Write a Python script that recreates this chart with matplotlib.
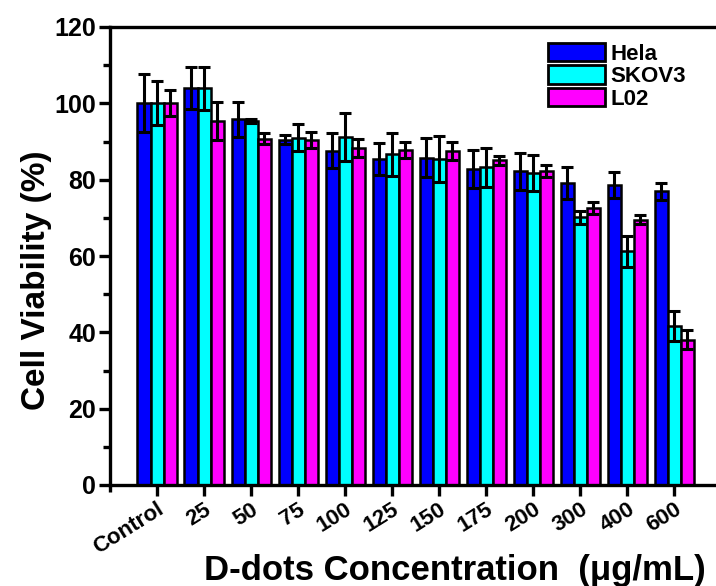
import numpy as np
import matplotlib
matplotlib.use("Agg")
import matplotlib.pyplot as plt
import matplotlib.transforms as mtransforms

plt.rcParams['font.family'] = ['Liberation Sans', 'DejaVu Sans']
plt.rcParams['font.weight'] = 'bold'

concentrations = ["Control", "25", "50", "75", "100", "125", "150", "175",
                  "200", "300", "400", "600"]
series_names = ["Hela", "SKOV3", "L02"]

hela_mean = [100.0, 103.9, 95.8, 90.5, 87.6, 85.3, 85.8, 82.9, 82.2, 79.2, 78.6, 77.0]
hela_err = [7.6, 5.5, 4.6, 1.2, 4.5, 4.2, 5.2, 5.0, 4.8, 4.2, 3.3, 2.2]
skov3_mean = [100.0, 103.9, 95.3, 91.0, 91.2, 86.6, 85.5, 83.2, 81.8, 70.1, 61.2, 41.6]
skov3_err = [5.8, 5.6, 0.5, 3.6, 6.2, 5.7, 6.0, 5.0, 4.7, 1.7, 4.0, 4.0]
l02_mean = [100.0, 95.3, 90.7, 90.4, 88.3, 87.8, 87.6, 85.1, 82.3, 72.6, 69.5, 38.1]
l02_err = [3.4, 5.0, 1.4, 2.2, 2.4, 2.0, 2.4, 1.2, 1.5, 1.5, 1.2, 2.5]

colors = ["#0000FF", "#00FFFF", "#FF00FF"]

fig = plt.figure(figsize=(7.16, 5.86), dpi=100)
ax = fig.add_axes([110 / 716, (586 - 485) / 586, 606 / 716, (485 - 27) / 586])

x = np.arange(len(concentrations))
width = 0.277
means = [hela_mean, skov3_mean, l02_mean]
errs = [hela_err, skov3_err, l02_err]

for i, (m, e, c, name) in enumerate(zip(means, errs, colors, series_names)):
    pos = x + (i - 1) * width
    ax.bar(pos, m, width=width, color=c, edgecolor='black', linewidth=1.8,
           label=name, zorder=2)
    ax.errorbar(pos, m, yerr=e, fmt='none', ecolor='black', elinewidth=2.2,
                capsize=4.6, capthick=2.2, zorder=3)

ax.set_xlim(-1.0, 11.89)
ax.set_ylim(0, 120)

ax.set_yticks(np.arange(0, 121, 20))
ax.set_yticks(np.arange(10, 120, 20), minor=True)
ax.set_xticks(x)
ax.set_xticks([-1], minor=True)
ax.set_xticklabels(concentrations, rotation=32, ha='right',
                   rotation_mode='anchor', fontsize=16, fontweight='bold')
offset = mtransforms.ScaledTranslation(13 / 100, -2 / 100, fig.dpi_scale_trans)
for lbl in ax.get_xticklabels():
    lbl.set_transform(lbl.get_transform() + offset)
for lbl in ax.get_yticklabels():
    lbl.set_fontsize(18)
    lbl.set_fontweight('bold')

ax.tick_params(axis='both', which='major', direction='out', length=8, width=2.4, pad=2)
ax.tick_params(axis='both', which='minor', direction='out', length=5, width=2.4)

for side in ['left', 'bottom', 'top']:
    ax.spines[side].set_linewidth(2.4)
ax.spines['right'].set_visible(False)

ax.set_ylabel("Cell Viability (%)", fontsize=24, fontweight='bold')
ax.yaxis.set_label_coords((52 - 110) / 606, (485 - 280) / 458)

ax.set_xlabel("D-dots Concentration  (\u03bcg/mL)", fontsize=25, fontweight='bold')
ax.xaxis.set_label_coords((455 - 110) / 606, -(587 - 485) / 458)
ax.xaxis.label.set_va('bottom')

leg = ax.legend(loc='upper left', bbox_to_anchor=(548 / 716, 1 - 43 / 586),
                bbox_transform=fig.transFigure, frameon=False, fontsize=16,
                handlelength=2.55, handleheight=0.9, labelspacing=0.02,
                handletextpad=0.25, borderpad=0, borderaxespad=0)
for h in leg.legend_handles:
    h.set_linewidth(2.0)
    h.set_edgecolor('black')

fig.savefig("out.png", dpi=100)
